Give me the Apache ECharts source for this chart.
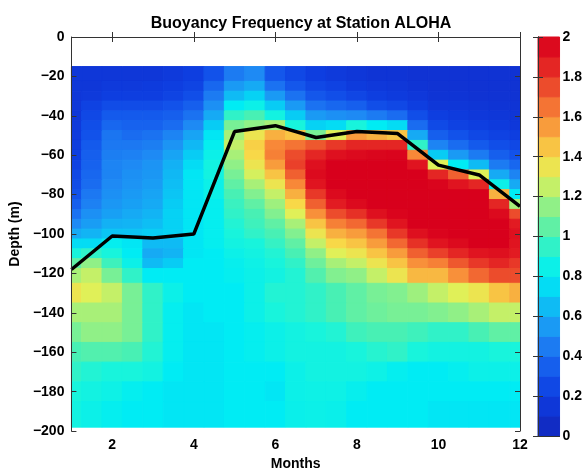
<!DOCTYPE html>
<html>
<head>
<meta charset="utf-8">
<title>Buoyancy Frequency at Station ALOHA</title>
<script src="https://cdn.jsdelivr.net/npm/echarts@6/dist/echarts.min.js"></script>
<style>
html, body { margin: 0; padding: 0; background: #fff; }
#main { width: 585px; height: 476px; }
</style>
</head>
<body>
<div id="main"></div>
<script>
// grid of the field: half-month columns, 5 m rows down to 120 m, 10 m below
var months = [1, 1.5, 2, 2.5, 3, 3.5, 4, 4.5, 5, 5.5, 6, 6.5, 7, 7.5, 8, 8.5, 9, 9.5, 10, 10.5, 11, 11.5, 12];
var depths = [-20, -25, -30, -35, -40, -45, -50, -55, -60, -65, -70, -75, -80, -85, -90, -95, -100, -105, -110, -115, -120,
  -130, -140, -150, -160, -170, -180, -190];

// buoyancy frequency, one row per depth
var n20  = [0.15, 0.15, 0.15, 0.15, 0.15, 0.17, 0.2, 0.3, 0.45, 0.5, 0.32, 0.25, 0.2, 0.17, 0.15, 0.13, 0.13, 0.12, 0.12, 0.12, 0.12, 0.12, 0.12];
var n25  = [0.15, 0.15, 0.17, 0.17, 0.18, 0.2, 0.23, 0.38, 0.55, 0.6, 0.42, 0.32, 0.25, 0.22, 0.18, 0.16, 0.15, 0.13, 0.12, 0.12, 0.12, 0.12, 0.12];
var n30  = [0.15, 0.17, 0.2, 0.2, 0.2, 0.23, 0.28, 0.45, 0.65, 0.72, 0.55, 0.42, 0.32, 0.28, 0.24, 0.2, 0.18, 0.16, 0.13, 0.13, 0.12, 0.12, 0.12];
var n35  = [0.15, 0.22, 0.27, 0.27, 0.27, 0.3, 0.35, 0.52, 0.8, 0.85, 0.7, 0.55, 0.42, 0.38, 0.35, 0.28, 0.25, 0.2, 0.15, 0.15, 0.14, 0.13, 0.13];
var n40  = [0.15, 0.25, 0.33, 0.33, 0.33, 0.35, 0.42, 0.6, 0.95, 1.0, 0.88, 0.7, 0.55, 0.52, 0.5, 0.45, 0.4, 0.28, 0.2, 0.18, 0.16, 0.15, 0.14];
var n45  = [0.17, 0.28, 0.38, 0.36, 0.36, 0.4, 0.5, 0.7, 1.1, 1.15, 1.2, 0.9, 0.72, 0.75, 0.9, 0.8, 0.75, 0.4, 0.26, 0.22, 0.2, 0.18, 0.16];
var n50  = [0.18, 0.3, 0.43, 0.4, 0.42, 0.48, 0.58, 0.78, 1.2, 1.35, 1.5, 1.45, 1.1, 1.3, 1.55, 1.5, 1.45, 0.6, 0.35, 0.3, 0.25, 0.22, 0.2];
var n55  = [0.19, 0.33, 0.44, 0.44, 0.46, 0.53, 0.64, 0.82, 1.25, 1.42, 1.6, 1.65, 1.72, 1.8, 1.85, 1.85, 1.85, 0.95, 0.48, 0.4, 0.33, 0.28, 0.25];
var n60  = [0.2, 0.35, 0.46, 0.47, 0.5, 0.58, 0.7, 0.85, 1.2, 1.4, 1.62, 1.75, 1.85, 1.92, 1.95, 1.97, 1.98, 1.6, 0.7, 0.55, 0.45, 0.35, 0.3];
var n65  = [0.22, 0.36, 0.48, 0.5, 0.53, 0.62, 0.75, 0.88, 1.15, 1.35, 1.55, 1.78, 1.92, 2, 2, 2, 2, 1.9, 1.3, 0.8, 0.65, 0.45, 0.38];
var n70  = [0.25, 0.38, 0.48, 0.52, 0.54, 0.64, 0.78, 0.88, 1.1, 1.28, 1.45, 1.7, 1.95, 2, 2, 2, 2, 2, 1.85, 1.7, 1.3, 0.6, 0.48];
var n75  = [0.27, 0.4, 0.5, 0.53, 0.56, 0.66, 0.78, 0.85, 1.05, 1.2, 1.35, 1.6, 1.9, 2, 2, 2, 2, 2, 1.98, 1.9, 1.85, 0.85, 0.6];
var n80  = [0.3, 0.44, 0.52, 0.55, 0.58, 0.68, 0.78, 0.85, 1.0, 1.12, 1.25, 1.5, 1.8, 1.95, 2, 2, 2, 2, 2, 2, 2, 1.5, 0.8];
var n85  = [0.35, 0.47, 0.54, 0.57, 0.6, 0.7, 0.78, 0.82, 0.97, 1.05, 1.18, 1.4, 1.7, 1.88, 1.95, 2, 2, 2, 2, 2, 2, 1.85, 1.2];
var n90  = [0.42, 0.52, 0.57, 0.6, 0.63, 0.72, 0.78, 0.82, 0.95, 1.0, 1.12, 1.3, 1.58, 1.75, 1.82, 1.92, 1.98, 2, 2, 2, 2, 1.95, 1.75];
var n95  = [0.5, 0.56, 0.62, 0.63, 0.66, 0.72, 0.78, 0.82, 0.92, 0.98, 1.05, 1.2, 1.45, 1.62, 1.68, 1.8, 1.9, 2, 2, 2, 2, 2, 1.88];
var n100 = [0.6, 0.63, 0.68, 0.68, 0.7, 0.72, 0.78, 0.82, 0.9, 0.95, 1.0, 1.12, 1.35, 1.5, 1.55, 1.65, 1.8, 1.92, 1.98, 2, 2, 2, 1.92];
var n105 = [0.75, 0.75, 0.82, 0.78, 0.65, 0.65, 0.78, 0.82, 0.88, 0.9, 0.96, 1.05, 1.25, 1.4, 1.45, 1.55, 1.68, 1.82, 1.9, 1.95, 2, 2, 1.9];
var n110 = [0.9, 0.95, 0.9, 0.8, 0.6, 0.63, 0.78, 0.8, 0.85, 0.88, 0.92, 1.0, 1.15, 1.3, 1.35, 1.45, 1.55, 1.7, 1.78, 1.85, 1.9, 1.92, 1.88];
var n115 = [1.05, 1.15, 0.98, 0.85, 0.65, 0.7, 0.8, 0.8, 0.83, 0.86, 0.9, 0.95, 1.08, 1.2, 1.25, 1.35, 1.45, 1.58, 1.62, 1.72, 1.8, 1.85, 1.8];
var n120 = [1.2, 1.25, 1.1, 0.95, 0.8, 0.8, 0.8, 0.8, 0.82, 0.85, 0.88, 0.92, 1.02, 1.12, 1.15, 1.25, 1.35, 1.48, 1.48, 1.58, 1.68, 1.75, 1.75];
var n130 = [1.35, 1.3, 1.25, 1.1, 0.95, 0.85, 0.8, 0.8, 0.8, 0.85, 0.92, 0.92, 0.95, 1.0, 1.05, 1.1, 1.12, 1.18, 1.25, 1.3, 1.35, 1.45, 1.5];
var n140 = [1.2, 1.2, 1.2, 1.1, 0.95, 0.82, 0.78, 0.8, 0.8, 0.85, 0.9, 0.92, 0.95, 1.0, 1.05, 1.08, 1.1, 1.1, 1.12, 1.15, 1.2, 1.25, 1.25];
var n150 = [1.1, 1.15, 1.15, 1.1, 0.95, 0.82, 0.78, 0.78, 0.8, 0.82, 0.85, 0.88, 0.9, 0.92, 0.98, 1.0, 1.0, 0.98, 0.95, 0.95, 1.0, 1.05, 1.05];
var n160 = [1.0, 1.02, 1.02, 1.0, 0.92, 0.82, 0.78, 0.78, 0.8, 0.82, 0.85, 0.88, 0.88, 0.88, 0.9, 0.93, 0.95, 0.9, 0.88, 0.88, 0.88, 0.9, 0.9];
var n170 = [0.95, 0.92, 0.9, 0.9, 0.88, 0.8, 0.78, 0.78, 0.8, 0.8, 0.8, 0.85, 0.88, 0.88, 0.88, 0.86, 0.82, 0.8, 0.8, 0.82, 0.85, 0.85, 0.85];
var n180 = [0.9, 0.88, 0.86, 0.82, 0.8, 0.78, 0.78, 0.78, 0.8, 0.8, 0.78, 0.85, 0.86, 0.86, 0.83, 0.8, 0.8, 0.8, 0.8, 0.8, 0.8, 0.8, 0.8];
var n190 = [0.88, 0.85, 0.82, 0.8, 0.8, 0.78, 0.78, 0.78, 0.8, 0.8, 0.8, 0.84, 0.85, 0.84, 0.8, 0.8, 0.8, 0.8, 0.78, 0.78, 0.78, 0.78, 0.78];
var field = [n20, n25, n30, n35, n40, n45, n50, n55, n60, n65, n70, n75, n80, n85, n90, n95, n100, n105, n110, n115, n120,
  n130, n140, n150, n160, n170, n180, n190];

// black line (mixed layer depth)
var mldMonths = [1, 2, 3, 4, 5, 6, 7, 8, 9, 10, 11, 12];
var mldDepth = [-118, -101, -102, -100, -48, -45, -51, -48, -49, -65, -70, -86];

var monthTicks = [2, 4, 6, 8, 10, 12];
var cbarLevels = [0, 0.1, 0.2, 0.3, 0.4, 0.5, 0.6, 0.7, 0.8, 0.9, 1, 1.1, 1.2, 1.3, 1.4, 1.5, 1.6, 1.7, 1.8, 1.9, 2];

var jet = ['#1228b8', '#1030d0', '#0e3ee0', '#1252ea', '#1a6cf0', '#1e8af4', '#16aaf4',
  '#08ccf4', '#00ecf4', '#18f4dc', '#48f0b4', '#78f096', '#a8f078', '#e0f058', '#f8d848',
  '#f8b040', '#f88838', '#f06030', '#e83828', '#e01420', '#d8001c'];

var DATA_TOP = -15, DATA_BOTTOM = -198;
var FONT = 'Liberation Sans';

var cells = [];
for (var r = 0; r < depths.length; r++) {
  var yTop = r === 0 ? DATA_TOP : (depths[r - 1] + depths[r]) / 2;
  var yBot = r === depths.length - 1 ? DATA_BOTTOM : (depths[r] + depths[r + 1]) / 2;
  for (var c = 0; c < months.length; c++) {
    var xL = c === 0 ? months[0] : (months[c - 1] + months[c]) / 2;
    var xR = c === months.length - 1 ? months[c] : (months[c] + months[c + 1]) / 2;
    cells.push([xL, xR, yTop, yBot, field[r][c]]);
  }
}

var bands = [];
for (var k = 0; k < cbarLevels.length - 1; k++) {
  bands.push([0, 1, cbarLevels[k], cbarLevels[k + 1], (cbarLevels[k] + cbarLevels[k + 1]) / 2]);
}

function renderCell(params, api) {
  var a = api.coord([api.value(0), api.value(2)]);
  var b = api.coord([api.value(1), api.value(3)]);
  var color = api.visual('color');
  return {
    type: 'rect',
    shape: {
      x: Math.min(a[0], b[0]),
      y: Math.min(a[1], b[1]),
      width: Math.abs(b[0] - a[0]),
      height: Math.abs(b[1] - a[1])
    },
    style: { fill: color, stroke: color, lineWidth: 1 }
  };
}

var lineStyle = { color: '#333', width: 1 };
var tickStyle = { inside: true, length: 5, lineStyle: { color: '#333' } };
var labelStyle = { color: '#000', fontFamily: FONT, fontWeight: 'bold', fontSize: 14 };
var nameStyle = { color: '#000', fontFamily: FONT, fontWeight: 'bold', fontSize: 14 };

function minus(v) {
  return String(v).replace('-', '\u2212');
}

var myChart = echarts.init(document.getElementById('main'));
var option = {
  backgroundColor: '#fff',
  animation: false,
  title: {
    text: 'Buoyancy Frequency at Station ALOHA',
    left: 296,
    textAlign: 'center',
    top: 11,
    textStyle: { fontFamily: FONT, fontWeight: 'bold', fontSize: 16, color: '#000' }
  },
  grid: [
    { left: 71, top: 37, width: 449, height: 399 },
    { left: 538, top: 37, width: 25, height: 399 }
  ],
  visualMap: {
    type: 'continuous',
    show: false,
    min: 0,
    max: 2,
    dimension: 4,
    seriesIndex: [0, 2],
    inRange: { color: jet }
  },
  xAxis: [
    {
      type: 'value', gridIndex: 0, min: 1, max: 12, position: 'bottom', z: 10,
      name: 'Months', nameLocation: 'middle', nameGap: 23, nameTextStyle: nameStyle,
      axisLine: { show: true, lineStyle: lineStyle },
      axisTick: { show: true, inside: true, length: 5, lineStyle: { color: '#333' }, customValues: monthTicks },
      axisLabel: Object.assign({ margin: 7, customValues: monthTicks }, labelStyle),
      splitLine: { show: false }
    },
    {
      type: 'value', gridIndex: 0, min: 1, max: 12, position: 'top', z: 10,
      axisLine: { show: true, lineStyle: lineStyle },
      axisTick: { show: true, inside: true, length: 5, lineStyle: { color: '#333' }, customValues: monthTicks },
      axisLabel: { show: false },
      splitLine: { show: false }
    },
    {
      type: 'value', gridIndex: 1, min: 0, max: 1, position: 'bottom', z: 10,
      axisLine: { show: true, lineStyle: lineStyle },
      axisTick: { show: false }, axisLabel: { show: false }, splitLine: { show: false }
    },
    {
      type: 'value', gridIndex: 1, min: 0, max: 1, position: 'top', z: 10,
      axisLine: { show: true, lineStyle: lineStyle },
      axisTick: { show: false }, axisLabel: { show: false }, splitLine: { show: false }
    }
  ],
  yAxis: [
    {
      type: 'value', gridIndex: 0, min: -200, max: 0, interval: 20, position: 'left', z: 10,
      name: 'Depth (m)', nameLocation: 'middle', nameGap: 46, nameTextStyle: nameStyle,
      axisLine: { show: true, lineStyle: lineStyle },
      axisTick: tickStyle,
      axisLabel: Object.assign({ margin: 7, formatter: minus }, labelStyle),
      splitLine: { show: false }
    },
    {
      type: 'value', gridIndex: 0, min: -200, max: 0, interval: 20, position: 'right', z: 10,
      axisLine: { show: true, lineStyle: lineStyle },
      axisTick: tickStyle,
      axisLabel: { show: false },
      splitLine: { show: false }
    },
    {
      type: 'value', gridIndex: 1, min: 0, max: 2, interval: 0.2, position: 'right', z: 10,
      axisLine: { show: true, lineStyle: lineStyle },
      axisTick: tickStyle,
      axisLabel: Object.assign({ margin: 3 }, labelStyle),
      splitLine: { show: false }
    },
    {
      type: 'value', gridIndex: 1, min: 0, max: 2, interval: 0.2, position: 'left', z: 10,
      axisLine: { show: true, lineStyle: lineStyle },
      axisTick: tickStyle,
      axisLabel: { show: false },
      splitLine: { show: false }
    }
  ],
  series: [
    {
      name: 'N',
      type: 'custom',
      xAxisIndex: 0,
      yAxisIndex: 0,
      renderItem: renderCell,
      encode: { x: [0, 1], y: [2, 3] },
      data: cells,
      z: 1
    },
    {
      name: 'MLD',
      type: 'line',
      xAxisIndex: 0,
      yAxisIndex: 0,
      data: mldMonths.map(function (m, i) { return [m, mldDepth[i]]; }),
      symbol: 'none',
      lineStyle: { color: '#000', width: 3.5 },
      z: 5
    },
    {
      name: 'colorbar',
      type: 'custom',
      xAxisIndex: 2,
      yAxisIndex: 2,
      renderItem: renderCell,
      encode: { x: [0, 1], y: [2, 3] },
      data: bands,
      z: 1
    }
  ]
};
myChart.setOption(option);
</script>
</body>
</html>
